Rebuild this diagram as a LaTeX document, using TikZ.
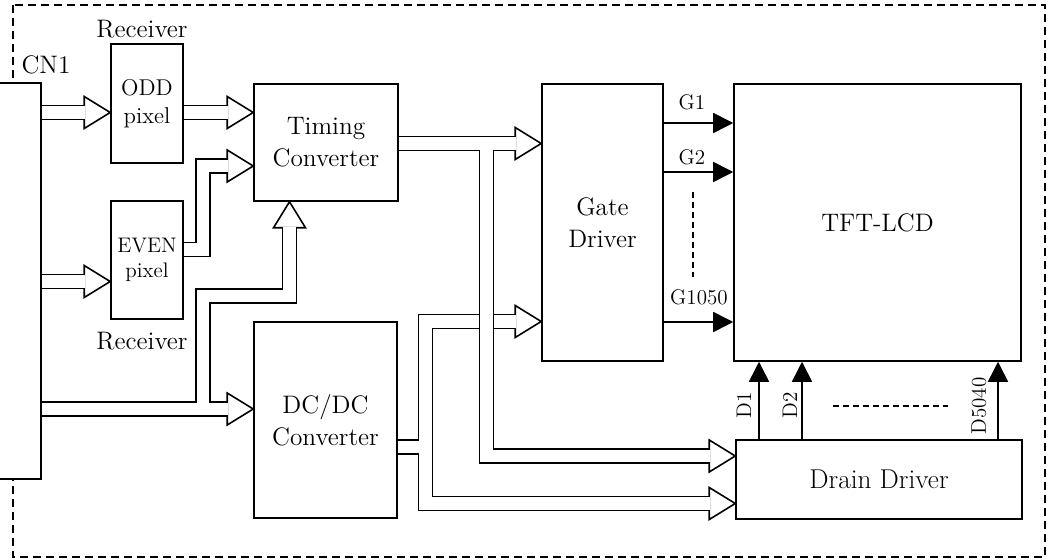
\documentclass[tikz,border=0pt]{standalone}
\usepackage{tikz}
\usetikzlibrary{arrows.meta,backgrounds,positioning}
\newcommand{\headback}{0.505cm}
\tikzset{%
  blk/.style={%
    draw,
    fill=white,
    line width=0.9pt,
    align=center,
    font=\Large,
    inner sep=0pt
  },
  lbl/.style={font=\Large,inner sep=0pt},
  siglbl/.style={font=\large,inner sep=0pt},
  frame/.style={line width=0.9pt,dash pattern=on 0.16cm off 0.1cm},
  gapline/.style={line width=0.9pt,dash pattern=on 0.12cm off 0.08cm},
  sig/.style={-{Triangle[length=0.4cm,width=0.4cm]},line width=0.9pt},
  bus/.style={line width=0.9pt,double=white,double distance=0.25cm},
  bushead/.pic={\draw[line width=0.9pt,fill=white] (-26,-16) -- (0,0) -- (-26,16) -- cycle;}
}

\begin{document}
\begin{tikzpicture}[x=0.02cm,y=-0.02cm]
    \useasboundingbox (0,0) rectangle (1055,560);

    \node[blk,minimum width=0.86cm,minimum height=7.92cm] (cn) at (19.5,281) {};
    \node[lbl] (cnlbl) at (46,65) {CN1};
    \node[blk,font=\fontsize{13}{16}\selectfont,minimum width=1.44cm,minimum height=2.38cm] (odd) at (147,103.5) {ODD\\pixel};
    \node[blk,font=\large,minimum width=1.44cm,minimum height=2.36cm] (even) at (147,260) {EVEN\\pixel};
    \node[lbl] (rxodd) at (142,29) {Receiver};
    \node[lbl] (rxeven) at (142,341) {Receiver};
    \node[blk,minimum width=2.88cm,minimum height=2.34cm] (timing) at (326,142.5) {Timing\\Converter};
    \node[blk,minimum width=2.86cm,minimum height=3.92cm] (dcdc) at (325.5,420) {DC/DC\\Converter};
    \node[blk,minimum width=2.42cm,minimum height=5.54cm] (gate) at (602.5,222.5) {Gate\\Driver};
    \node[blk,minimum width=5.74cm,minimum height=5.54cm] (tft) at (877.5,222.5) {TFT-LCD};
    \node[blk,font=\fontsize{15.5}{18}\selectfont,minimum width=5.72cm,minimum height=1.58cm] (drain) at (879,479.5) {Drain Driver};

    % tips of the wide arrows
    \coordinate (oddin) at (odd.west |- 0,112.5);
    \coordinate (tmin1) at (timing.west |- 0,112.5);
    \coordinate (evenin) at (even.west |- 0,281.5);
    \coordinate (tmin2) at (timing.west |- 0,166);
    \coordinate (tmin3) at (timing.south -| 289.5,0);
    \coordinate (dcin) at (dcdc.west |- 0,409);
    \coordinate (gdin1) at (gate.west |- 0,143.5);
    \coordinate (gdin2) at (gate.west |- 0,321.5);
    \coordinate (ddin1) at (drain.west |- 0,456);
    \coordinate (ddin2) at (drain.west |- 0,503.5);

    \begin{scope}[on background layer]
      \draw[frame] (13,5) rectangle (1045,557);
      \foreach \t in {oddin,tmin1,evenin,tmin2,dcin,gdin1,gdin2,ddin1,ddin2}
        \pic at (\t) {bushead};
      \pic[rotate=90] at (tmin3) {bushead};

      \draw[bus] (cn.east |- oddin) -- ([xshift=-\headback]oddin);
      \draw[bus] (odd.east |- tmin1) -- ([xshift=-\headback]tmin1);
      \draw[bus] (cn.east |- evenin) -- ([xshift=-\headback]evenin);
      \draw[bus] (even.east |- 0,249.5) -| (203,166) -- ([xshift=-\headback]tmin2);
      % CN1 to DC/DC, branch up to timing
      \draw[bus] (cn.east |- dcin) -- ([xshift=-\headback]dcin);
      \draw[bus] (203,402.75) |- (289.5,296) -- ([yshift=-\headback]tmin3);
      % DC/DC to gate and drain
      \draw[bus] ([xshift=-\headback]gdin2) -| (425.5,503.5) -- ([xshift=-\headback]ddin2);
      \draw[bus] (dcdc.east |- 0,447) -- (419.25,447);
      % timing to gate and drain
      \draw[bus] (timing.east |- gdin1) -- ([xshift=-\headback]gdin1);
      \draw[bus] (486.5,149.75) |- ([xshift=-\headback]ddin1);
    \end{scope}

    \draw[sig] (gate.east |- 0,123) -- (tft.west |- 0,123);
    \draw[sig] (gate.east |- 0,172) -- (tft.west |- 0,172);
    \draw[sig] (gate.east |- 0,322) -- (tft.west |- 0,322);
    \node[siglbl] (g1lbl) at (692,102) {G1};
    \node[siglbl] (g2lbl) at (692,157) {G2};
    \node[siglbl] (gnlbl) at (699,297) {G1050};
    \draw[gapline] (693,192) -- (693,277);

    \draw[sig] (drain.north -| 759,0) -- (tft.south -| 759,0);
    \draw[sig] (drain.north -| 802,0) -- (tft.south -| 802,0);
    \draw[sig] (drain.north -| 998,0) -- (tft.south -| 998,0);
    \node[siglbl,rotate=90] (d1lbl) at (744,405) {D1};
    \node[siglbl,rotate=90] (d2lbl) at (790,405) {D2};
    \node[siglbl,rotate=90] (dnlbl) at (979,406) {D5040};
    \draw[gapline] (833,406) -- (948,406);
  \end{tikzpicture}
\end{document}
